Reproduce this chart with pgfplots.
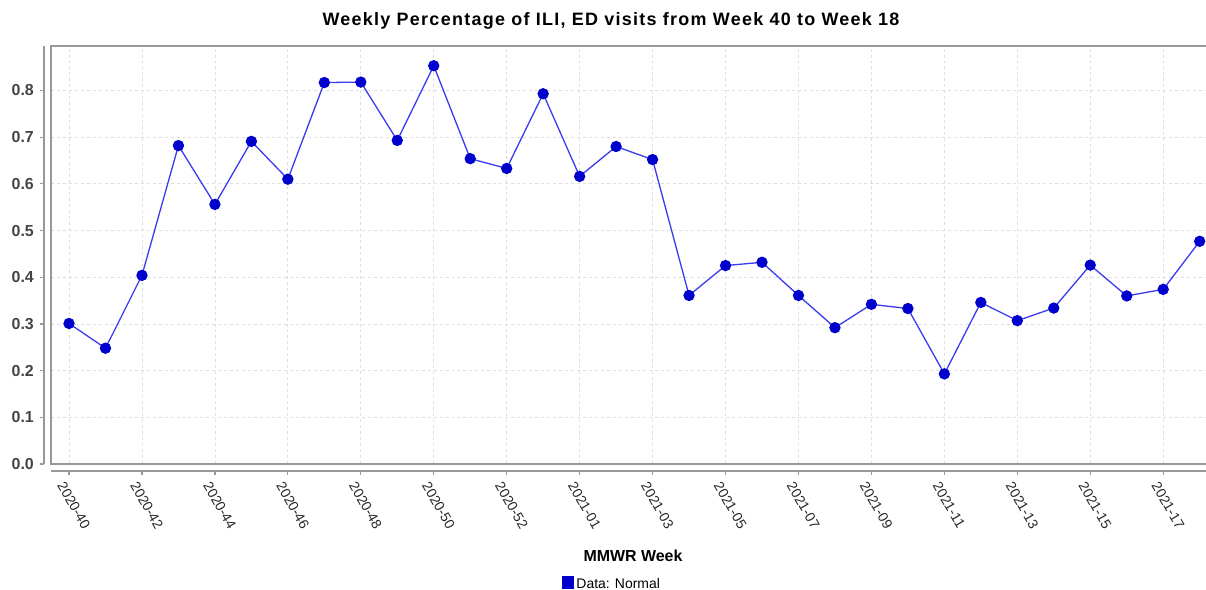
\documentclass[border=0pt]{standalone}
\usepackage{fontspec}
\setmainfont{Liberation Sans}
\newfontfamily\titlefont[LetterSpace=7.2]{Liberation Sans}
\usepackage{pgfplots}
\pgfplotsset{compat=1.18}
\definecolor{linecol}{HTML}{3A3AF0}
\definecolor{markcol}{HTML}{0000CC}
\definecolor{boxgray}{HTML}{999999}
\definecolor{gridgray}{HTML}{DEDEDE}
\definecolor{ticktext}{HTML}{444444}
\begin{document}
\begin{tikzpicture}[x=1bp,y=1bp]
\useasboundingbox (-51,-126) rectangle (1155,464);
\begin{axis}[
  at={(0,0)}, anchor=south west,
  scale only axis, width=1164bp, height=418bp,
  xmin=-0.494, xmax=31.42, ymin=0, ymax=0.8953,
  axis line style={boxgray, line width=1.6bp},
  major tick length=0pt,
  xtick={0,2,4,6,8,10,12,14,16,18,20,22,24,26,28,30},
  xticklabels={2020-40,2020-42,2020-44,2020-46,2020-48,2020-50,2020-52,2021-01,2021-03,2021-05,2021-07,2021-09,2021-11,2021-13,2021-15,2021-17},
  ytick={0,0.1,0.2,0.3,0.4,0.5,0.6,0.7,0.8},
  yticklabels={0.0,0.1,0.2,0.3,0.4,0.5,0.6,0.7,0.8},
  /pgf/number format/assume math mode=true,
  yticklabel style={anchor=east, inner sep=0pt, xshift=-17bp, font=\fontsize{16}{18}\selectfont\bfseries, text=ticktext},
  xticklabel style={xshift=-8bp, yshift=-5bp, rotate=-60, anchor=west, inner sep=0pt, font=\fontsize{14}{16}\selectfont, text=black!85},
  xticklabel shift=14bp,
  grid=major, grid style={gridgray, dashed, line width=0.8bp},
  clip=false,
  legend style={at={(0.482,-0.287)}, anchor=center, draw=none, fill=none, inner sep=0pt,
    font=\fontsize{14}{16}\selectfont},
]
\addplot[linecol, line width=1.3bp, mark=*, mark size=5bp,
  mark options={draw=markcol, fill=markcol},
  legend image code/.code={\fill[markcol] (0bp,-4bp) rectangle (11bp,7bp);}]
  table {
x y
0 0.301
1 0.248
2 0.404
3 0.682
4 0.556
5 0.691
6 0.610
7 0.817
8 0.818
9 0.693
10 0.853
11 0.654
12 0.633
13 0.793
14 0.616
15 0.680
16 0.652
17 0.361
18 0.425
19 0.432
20 0.361
21 0.292
22 0.342
23 0.333
24 0.193
25 0.346
26 0.307
27 0.334
28 0.426
29 0.360
30 0.374
31 0.477
};
\addlegendentry{Data: Normal}
% offset axis lines
\draw[boxgray, line width=1.6bp] ([xshift=-7bp]rel axis cs:0,0) -- ([xshift=-7bp]rel axis cs:0,1);
\draw[boxgray, line width=1.6bp] ([yshift=-7bp]rel axis cs:0,0) -- ([yshift=-7bp]rel axis cs:1,0);
\pgfplotsinvokeforeach{0,0.1,0.2,0.3,0.4,0.5,0.6,0.7,0.8}{
  \draw[boxgray, line width=1.2bp] ([xshift=-7bp]axis cs:-0.494,#1) -- ([xshift=-11bp]axis cs:-0.494,#1);
}
\pgfplotsinvokeforeach{0,2,4,6,8,10,12,14,16,18,20,22,24,26,28,30}{
  \draw[boxgray, line width=1.2bp] ([yshift=-7bp]axis cs:#1,0) -- ([yshift=-11bp]axis cs:#1,0);
}
\end{axis}
\node[anchor=base, font=\fontsize{18}{20}\titlefont\bfseries] at (560,438) {Weekly Percentage of ILI, ED visits from Week 40 to Week 18};
\node[anchor=base, font=\fontsize{16}{18}\selectfont\bfseries] at (582,-98) {MMWR Week};
\end{tikzpicture}
\end{document}
